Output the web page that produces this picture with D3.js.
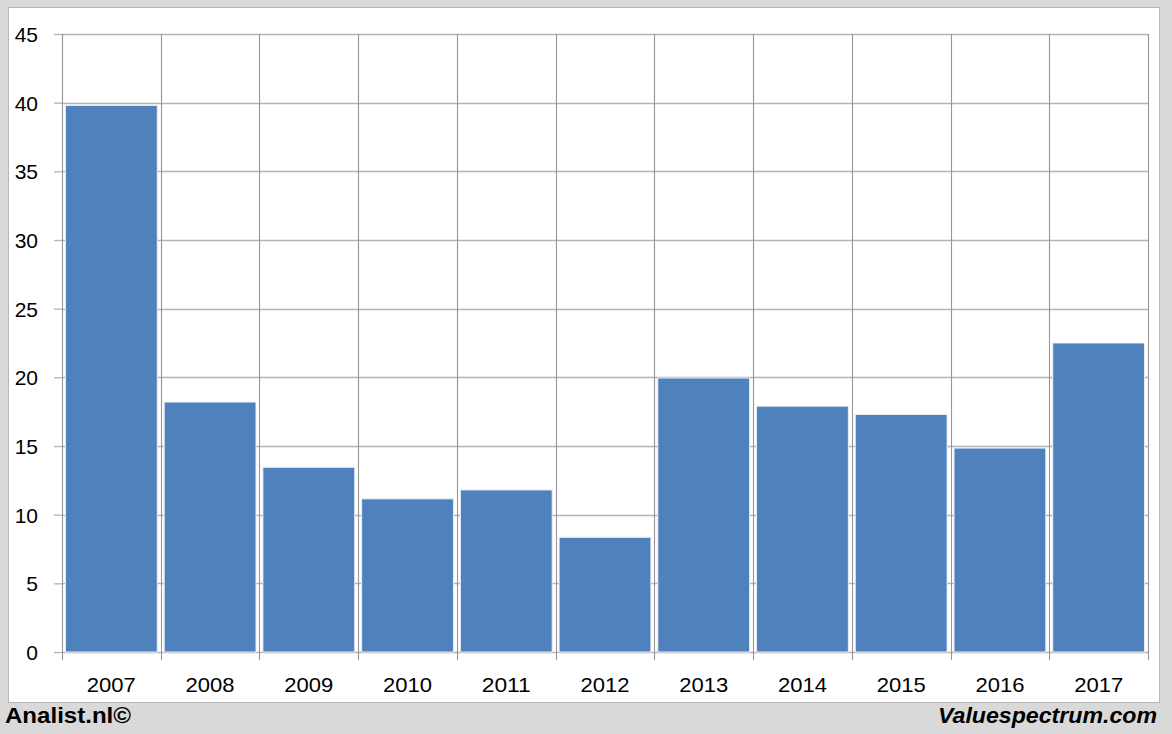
<!DOCTYPE html>
<html><head><meta charset="utf-8">
<script src="https://cdn.jsdelivr.net/npm/d3@7"></script>
<style>html,body{margin:0;padding:0;background:#d9d9d9;}svg{display:block;}</style>
</head><body>
<svg id="chart" width="1172" height="734"></svg>
<script>
const years = ["2007","2008","2009","2010","2011","2012","2013","2014","2015","2016","2017"];
const values = [39.8, 18.2, 13.45, 11.15, 11.8, 8.35, 19.95, 17.9, 17.3, 14.85, 22.5];
const yTicks = [0,5,10,15,20,25,30,35,40,45];

const svg = d3.select("#chart");
const W = 1172, H = 734;
const plot = {left: 62, right: 1148, top: 34, bottom: 652};

svg.append("rect").attr("x",0).attr("y",0).attr("width",W).attr("height",H).attr("fill","#d9d9d9");
svg.append("rect").attr("x",8.5).attr("y",7.5).attr("width",1151).attr("height",695)
  .attr("fill","#ffffff").attr("stroke","#b8b8b8").attr("stroke-width",1);

const x = d3.scaleBand().domain(years).range([plot.left, plot.right]).paddingInner(0.07).paddingOuter(0.035);
const xEdge = d3.scalePoint().domain(d3.range(years.length+1)).range([plot.left, plot.right]);
const y = d3.scaleLinear().domain([0,45]).range([plot.bottom, plot.top]);

const font = "'Liberation Sans', Arial, sans-serif";

// horizontal gridlines + y axis
const yAxis = d3.axisLeft(y).tickValues(yTicks).tickSize(8).tickPadding(16);
const gy = svg.append("g").attr("transform",`translate(${plot.left},0)`).call(yAxis);
gy.select(".domain").remove();
gy.selectAll(".tick line").attr("stroke","#b4b4b4").attr("stroke-width",1.3);
gy.selectAll(".tick text").attr("font-family",font).attr("font-size",21).attr("fill","#000").attr("dy","0.35em");
svg.append("g").selectAll("line").data(yTicks).join("line")
  .attr("x1",plot.left).attr("x2",plot.right)
  .attr("y1",d=>Math.round(y(d))+0.5).attr("y2",d=>Math.round(y(d))+0.5)
  .attr("stroke","#b4b4b4").attr("stroke-width",1.3);

// vertical gridlines (category boundaries), extended below baseline as tick marks
svg.append("g").selectAll("line").data(d3.range(years.length+1)).join("line")
  .attr("x1",d=>Math.round(xEdge(d))+0.5).attr("x2",d=>Math.round(xEdge(d))+0.5)
  .attr("y1",plot.top).attr("y2",plot.bottom+8)
  .attr("stroke","#969696").attr("stroke-width",1.1);

// bars
svg.append("g").selectAll("rect").data(values).join("rect")
  .attr("x",(d,i)=>x(years[i]))
  .attr("width",x.bandwidth())
  .attr("y",d=>y(d))
  .attr("height",d=>y(0)-y(d))
  .attr("fill","#4f81bd")
  .attr("stroke","#e9eef6").attr("stroke-width",1);

// x labels
const xAxis = d3.axisBottom(x).tickSize(0).tickPadding(0);
const gx = svg.append("g").attr("transform",`translate(0,${plot.bottom})`).call(xAxis);
gx.select(".domain").remove();
gx.selectAll(".tick text").attr("font-family",font).attr("font-size",21).attr("fill","#000")
  .attr("y",40).attr("dy",0).attr("textLength",49).attr("lengthAdjust","spacingAndGlyphs");

// footer
svg.append("text").attr("x",5).attr("y",723).attr("font-family",font).attr("font-weight","bold")
  .attr("font-size",22).attr("fill","#000").attr("textLength",126).attr("lengthAdjust","spacingAndGlyphs")
  .text("Analist.nl©");
svg.append("text").attr("x",1157).attr("y",723).attr("text-anchor","end").attr("font-family",font)
  .attr("font-weight","bold").attr("font-style","italic").attr("font-size",22).attr("fill","#000")
  .attr("textLength",219).attr("lengthAdjust","spacingAndGlyphs")
  .text("Valuespectrum.com");
</script>
</body></html>
